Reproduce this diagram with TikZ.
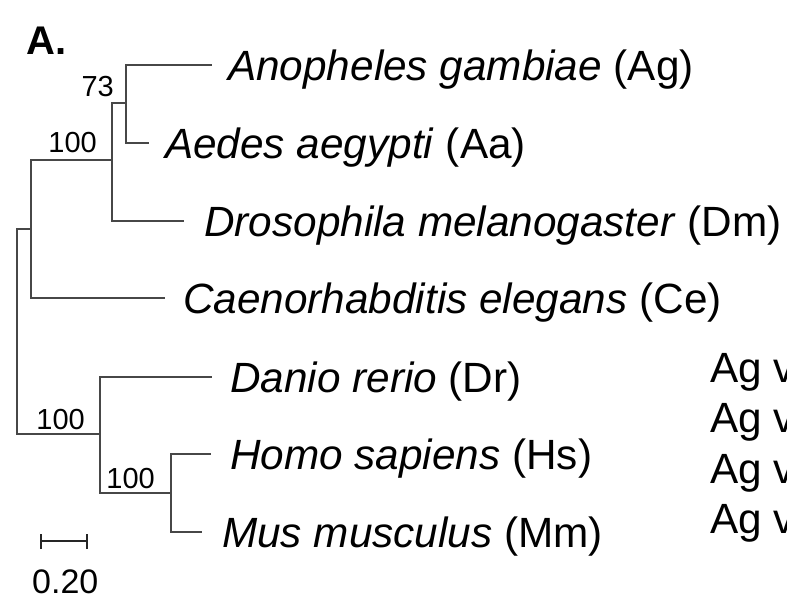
\documentclass[tikz,border=0pt]{standalone}
\usepackage{fontspec}
\setmainfont{Liberation Sans}
\begin{document}
\begin{tikzpicture}[x=1pt,y=-1pt,
  branch/.style={draw=black!72,line width=1.3pt},
  sp/.style={anchor=west,inner sep=0pt,text height=30pt,text depth=0pt,font=\fontsize{42.3}{48}\selectfont},
  boot/.style={anchor=base east,inner sep=0pt,font=\fontsize{29}{33}\selectfont},
  side/.style={anchor=base west,inner sep=0pt,font=\fontsize{42.3}{48}\selectfont}]
\useasboundingbox (0,0) rectangle (787,598);
\clip (0,0) rectangle (787,598);
% internal nodes
\coordinate (root) at (17,330);
\coordinate (nIC) at (31,229);
\coordinate (nIns) at (112,160);
\coordinate (n73) at (126,103);
\coordinate (nVert) at (100,434);
\coordinate (nHM) at (171,493);
% species labels
\node[sp] (ag) at (228,65) {\textit{Anopheles gambiae} (Ag)};
\node[sp] (aa) at (165,143) {\textit{Aedes aegypti} (Aa)};
\node[sp] (dm) at (204,221) {\textit{Drosophila melanogaster} (Dm)};
\node[sp] (ce) at (183,298) {\textit{Caenorhabditis elegans} (Ce)};
\node[sp] (dr) at (230,377) {\textit{Danio rerio} (Dr)};
\node[sp] (hs) at (230,454) {\textit{Homo sapiens} (Hs)};
\node[sp] (mm) at (222,532) {\textit{Mus musculus} (Mm)};
% branches
\draw[branch] (root) |- (nIC);
\draw[branch] (root) |- (nVert);
\draw[branch] (nIC) |- (nIns);
\draw[branch,shorten >=18pt] (nIC) |- (ce.west);
\draw[branch] (nIns) |- (n73);
\draw[branch,shorten >=20pt] (nIns) |- (dm.west);
\draw[branch,shorten >=16pt] (n73) |- (ag.west);
\draw[branch,shorten >=16pt] (n73) |- (aa.west);
\draw[branch,shorten >=18pt] (nVert) |- (dr.west);
\draw[branch] (nVert) |- (nHM);
\draw[branch,shorten >=19pt] (nHM) |- (hs.west);
\draw[branch,shorten >=20pt] (nHM) |- (mm.west);
% bootstrap values
\node[boot] (b73) at (114,96) {73};
\node[boot] (bIns) at (97,152) {100};
\node[boot] (bVert) at (85,429) {100};
\node[boot] (bHM) at (155,488) {100};
% panel letter
\node[anchor=base west,inner sep=0pt,font=\fontsize{40}{44}\selectfont\bfseries] (pA) at (26,54) {A.};
% scale bar
\coordinate (s1) at (41,541);
\coordinate (s2) at (87,541);
\draw[line width=2pt,black!85] (s1) -- (s2);
\draw[line width=2pt,black!85] ([yshift=-8pt]s1) -- ([yshift=7pt]s1);
\draw[line width=2pt,black!85] ([yshift=-8pt]s2) -- ([yshift=7pt]s2);
\node[anchor=base west,inner sep=0pt,font=\fontsize{34}{38}\selectfont] (scl) at (32,593) {0.20};
% side text (cut off)
\node[side] (v1) at (710,382) {Ag v};
\node[side] (v2) at (710,432) {Ag v};
\node[side] (v3) at (710,483) {Ag v};
\node[side] (v4) at (710,533) {Ag v};
\end{tikzpicture}
\end{document}
